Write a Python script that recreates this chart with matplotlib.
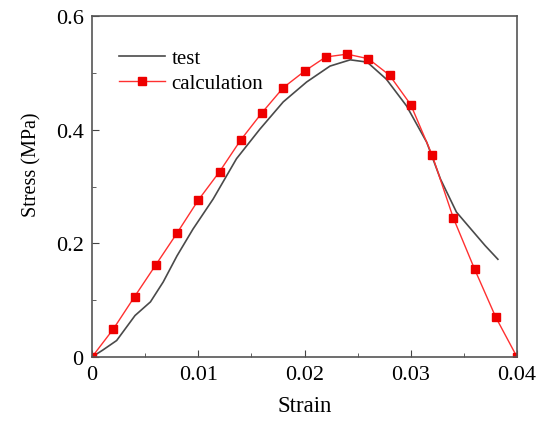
import matplotlib
matplotlib.use("Agg")
import matplotlib.pyplot as plt
from matplotlib.ticker import MultipleLocator

plt.rcParams['font.family'] = ['Liberation Serif', 'DejaVu Serif']

# test curve
test_strain = [0, 0.0010, 0.00232, 0.00405, 0.0055, 0.0067, 0.0080, 0.0095, 0.0114,
               0.0136, 0.0158, 0.0180, 0.0202, 0.0224, 0.0243, 0.0259, 0.0277,
               0.0296, 0.0315, 0.0328, 0.0343, 0.0359, 0.0370, 0.0382]
test_stress = [0, 0.012, 0.029, 0.073, 0.097, 0.132, 0.178, 0.225, 0.278,
               0.349, 0.401, 0.449, 0.484, 0.512, 0.523, 0.519, 0.489,
               0.442, 0.378, 0.313, 0.255, 0.220, 0.196, 0.172]

# calculation points
calc_strain = [0, 0.002, 0.004, 0.006, 0.008, 0.010, 0.012, 0.014, 0.016, 0.018, 0.020,
               0.022, 0.024, 0.026, 0.028, 0.030, 0.032, 0.034, 0.036, 0.038, 0.040]
calc_stress = [0, 0.049, 0.106, 0.162, 0.218, 0.276, 0.326, 0.382, 0.430, 0.474, 0.503,
               0.528, 0.533, 0.525, 0.496, 0.444, 0.356, 0.245, 0.155, 0.070, 0]

x_ticks = [0, 0.01, 0.02, 0.03, 0.04]
x_labels = ['0', '0.01', '0.02', '0.03', '0.04']
y_ticks = [0, 0.2, 0.4, 0.6]
y_labels = ['0', '0.2', '0.4', '0.6']

fig = plt.figure(figsize=(5.38, 4.27), dpi=100)
ax = fig.add_axes([0.171, 0.1616, 0.79, 0.7984])

ax.plot(test_strain, test_stress, color='#4a4a4a', lw=1.2, label='test')
ax.plot(calc_strain, calc_stress, color='#ff3030', lw=1.0, marker='s', markersize=5.5,
        markerfacecolor='#ee0000', markeredgecolor='#ee0000', label='calculation')

ax.set_xlim(0, 0.04)
ax.set_ylim(0, 0.6)
ax.xaxis.set_minor_locator(MultipleLocator(0.005))
ax.yaxis.set_minor_locator(MultipleLocator(0.1))
ax.set_xticks(x_ticks)
ax.set_xticklabels(x_labels)
ax.set_yticks(y_ticks)
ax.set_yticklabels(y_labels)
ax.tick_params(which='both', direction='in', labelsize=16, color='#444444', pad=6)
ax.tick_params(which='major', length=5)
ax.tick_params(which='minor', length=3)
for s in ax.spines.values():
    s.set_color('#555555')
    s.set_linewidth(1.2)

ax.set_xlabel('Strain', fontsize=16.5, labelpad=8)
ax.set_ylabel('Stress (MPa)', fontsize=14.5)
ax.yaxis.set_label_coords(-0.118, 0.566)

ax.legend(loc='upper left', frameon=False, fontsize=15, handlelength=2.2,
          handletextpad=0.3, labelspacing=0.25, bbox_to_anchor=(0.02, 0.96))

fig.savefig('out.png', dpi=100)
